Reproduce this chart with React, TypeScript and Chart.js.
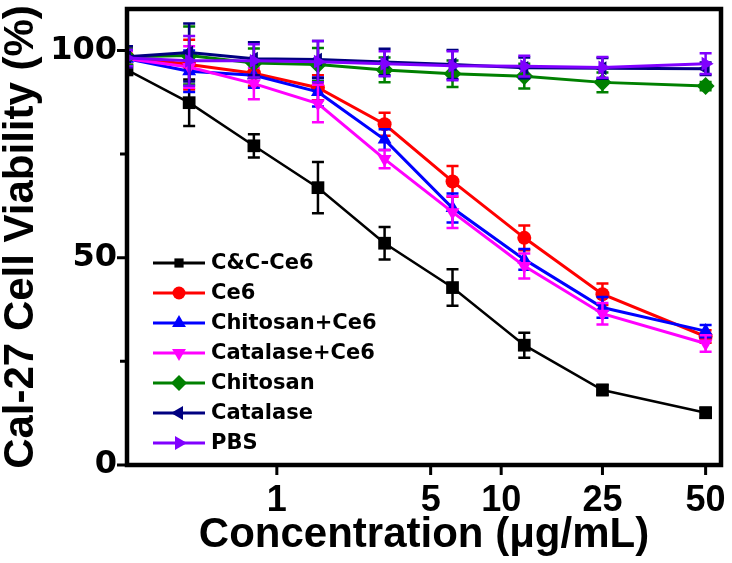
import React, { useEffect, useRef } from 'react';
import { Chart, registerables } from 'chart.js';

Chart.register(...registerables);

// ---------------- data ----------------
const CONCENTRATIONS = [0.195, 0.39, 0.78, 1.56, 3.125, 6.25, 12.5, 25, 50];

// calibration of the reference's (non-uniform) concentration axis, in dilution-step units
const AXIS_STOP_CONC = [0.195, 0.39, 0.78, 1.56, 3.125, 6.25, 12.5, 25, 50];
const AXIS_STOP_POS = [0, 0.97, 1.98, 2.98, 4.02, 5.08, 6.2, 7.42, 9.03];
const AXIS_MAX_POS = 9.27;

const X_TICKS = [1, 5, 10, 25, 50];
const X_TICK_LABELS = ['1', '5', '10', '25', '50'];
const Y_TICKS = [0, 50, 100];
const Y_MINOR_TICKS = [25, 75];

const SERIES_NAMES = ['C&C-Ce6', 'Ce6', 'Chitosan+Ce6', 'Catalase+Ce6', 'Chitosan', 'Catalase', 'PBS'];
const SERIES_COLORS = ['#000000', '#FF0000', '#0000FF', '#FF00FF', '#008000', '#000080', '#8000FF'];

const CC_CE6 = [95.3, 87.4, 77.0, 66.9, 53.5, 42.8, 28.9, 18.1, 12.6];
const CC_CE6_ERR = [0, 5.6, 2.8, 6.2, 3.9, 4.4, 3.0, 1.2, 1.2];
const CE6 = [98.5, 96.6, 94.5, 91.0, 82.2, 68.4, 54.8, 41.2, 31.0];
const CE6_ERR = [2, 6, 3, 3, 2.8, 3.7, 3.0, 2.6, 1.5];
const CHITOSAN_CE6 = [98.0, 95.0, 94.0, 90.0, 78.5, 62.0, 49.6, 38.0, 32.3];
const CHITOSAN_CE6_ERR = [2, 5, 3, 3.5, 2.5, 3.5, 2.5, 2.5, 1.5];
const CATALASE_CE6 = [98.0, 96.0, 92.0, 87.2, 73.8, 61.0, 48.0, 36.5, 29.3];
const CATALASE_CE6_ERR = [2, 5, 3.8, 4.5, 2.2, 3.8, 3.0, 2.6, 2.0];
const CHITOSAN = [98.5, 98.8, 97.0, 96.6, 95.3, 94.4, 93.8, 92.3, 91.4];
const CHITOSAN_ERR = [2, 7, 3.5, 4, 3, 3.2, 3, 2.4, 1];
const CATALASE = [98.5, 99.5, 98.0, 97.8, 97.2, 96.6, 95.8, 95.7, 95.6];
const CATALASE_ERR = [2.5, 7, 4, 4.5, 3.2, 3.5, 2.5, 2.5, 1.5];
const PBS = [98.2, 97.5, 97.5, 97.3, 96.8, 96.3, 96.2, 95.9, 96.8];
const PBS_ERR = [2, 6, 4, 5, 3, 3.5, 2.5, 2.5, 2.5];

const SERIES_VALUES = [CC_CE6, CE6, CHITOSAN_CE6, CATALASE_CE6, CHITOSAN, CATALASE, PBS];
const SERIES_ERRORS = [CC_CE6_ERR, CE6_ERR, CHITOSAN_CE6_ERR, CATALASE_CE6_ERR, CHITOSAN_ERR, CATALASE_ERR, PBS_ERR];

// marker styles
const MARKER_STYLE = ['rect', 'circle', 'triangle', 'triangle', 'rectRot', 'triangle', 'triangle'];
const MARKER_ROTATION = [0, 0, 0, 180, 0, 270, 90];
const MARKER_RADIUS = [9, 7, 8, 8, 9, 8, 8];
const LEGEND_MARKER_RADIUS = [6.5, 6.5, 8, 8, 8, 8, 8];

// ---------------- helpers ----------------
function warp(c: number): number {
  const n = AXIS_STOP_CONC.length;
  let i = 0;
  if (c <= AXIS_STOP_CONC[0]) i = 0;
  else if (c >= AXIS_STOP_CONC[n - 1]) i = n - 2;
  else {
    while (i < n - 2 && c > AXIS_STOP_CONC[i + 1]) i++;
  }
  const c0 = AXIS_STOP_CONC[i];
  const c1 = AXIS_STOP_CONC[i + 1];
  const t = Math.log(c / c0) / Math.log(c1 / c0);
  return AXIS_STOP_POS[i] + t * (AXIS_STOP_POS[i + 1] - AXIS_STOP_POS[i]);
}

function drawMarker(ctx: CanvasRenderingContext2D, style: string, rotationDeg: number, x: number, y: number, r: number) {
  ctx.save();
  ctx.translate(x, y);
  ctx.rotate((rotationDeg * Math.PI) / 180);
  ctx.beginPath();
  if (style === 'rect') {
    const s = Math.SQRT1_2 * r;
    ctx.rect(-s, -s, 2 * s, 2 * s);
  } else if (style === 'circle') {
    ctx.arc(0, 0, r, 0, Math.PI * 2);
  } else if (style === 'rectRot') {
    ctx.moveTo(0, -r);
    ctx.lineTo(r, 0);
    ctx.lineTo(0, r);
    ctx.lineTo(-r, 0);
    ctx.closePath();
  } else {
    for (let k = 0; k < 3; k++) {
      const a = -Math.PI / 2 + (k * 2 * Math.PI) / 3;
      const px = Math.cos(a) * r;
      const py = Math.sin(a) * r;
      if (k === 0) ctx.moveTo(px, py);
      else ctx.lineTo(px, py);
    }
    ctx.closePath();
  }
  ctx.fill();
  ctx.restore();
}

const errorBarPlugin = {
  id: 'errorBars',
  afterDatasetDraw(chart: any, args: any) {
    const idx = args.index;
    const errs = SERIES_ERRORS[idx];
    const vals = SERIES_VALUES[idx];
    if (!errs) return;
    const { ctx, chartArea } = chart;
    const yScale = chart.scales.y;
    ctx.save();
    ctx.beginPath();
    ctx.rect(chartArea.left, chartArea.top, chartArea.right - chartArea.left, chartArea.bottom - chartArea.top);
    ctx.clip();
    ctx.strokeStyle = SERIES_COLORS[idx];
    ctx.lineWidth = 2.5;
    args.meta.data.forEach((el: any, i: number) => {
      const e = errs[i];
      if (!e) return;
      const x = el.x;
      const yt = yScale.getPixelForValue(vals[i] + e);
      const yb = yScale.getPixelForValue(vals[i] - e);
      ctx.beginPath();
      ctx.moveTo(x, yt);
      ctx.lineTo(x, yb);
      ctx.moveTo(x - 6, yt);
      ctx.lineTo(x + 6, yt);
      ctx.moveTo(x - 6, yb);
      ctx.lineTo(x + 6, yb);
      ctx.stroke();
    });
    ctx.restore();
  },
};

const framePlugin = {
  id: 'frameTicksLegend',
  afterDraw(chart: any) {
    const { ctx, chartArea } = chart;
    const { left, right, top, bottom } = chartArea;
    const xScale = chart.scales.x;
    const yScale = chart.scales.y;
    ctx.save();
    ctx.strokeStyle = '#000';
    ctx.lineWidth = 4.5;
    ctx.strokeRect(left, top, right - left, bottom - top);

    ctx.lineWidth = 3;
    ctx.beginPath();
    Y_TICKS.forEach((v) => {
      const y = yScale.getPixelForValue(v);
      ctx.moveTo(left - 2, y);
      ctx.lineTo(left - 10, y);
    });
    Y_MINOR_TICKS.forEach((v) => {
      const y = yScale.getPixelForValue(v);
      ctx.moveTo(left - 2, y);
      ctx.lineTo(left - 7, y);
    });
    X_TICKS.forEach((v) => {
      const x = xScale.getPixelForValue(warp(v));
      ctx.moveTo(x, bottom + 2);
      ctx.lineTo(x, bottom + 10);
    });
    ctx.stroke();

    // legend
    const lx0 = 153;
    const lx1 = 205;
    const ly0 = 263;
    const step = 30;
    ctx.font = 'bold 21px "DejaVu Sans"';
    ctx.textBaseline = 'middle';
    ctx.textAlign = 'left';
    SERIES_NAMES.forEach((name, i) => {
      const y = ly0 + i * step;
      ctx.strokeStyle = SERIES_COLORS[i];
      ctx.fillStyle = SERIES_COLORS[i];
      ctx.lineWidth = 3;
      ctx.beginPath();
      ctx.moveTo(lx0, y);
      ctx.lineTo(lx1, y);
      ctx.stroke();
      drawMarker(ctx, MARKER_STYLE[i], MARKER_ROTATION[i], (lx0 + lx1) / 2, y, LEGEND_MARKER_RADIUS[i]);
      ctx.fillStyle = '#000';
      ctx.fillText(name, 211, y + 1);
    });
    ctx.restore();
  },
};

export default function App() {
  const canvasRef = useRef<HTMLCanvasElement | null>(null);

  useEffect(() => {
    if (!canvasRef.current) return;
    const datasets = SERIES_NAMES.map((name, i) => ({
      label: name,
      data: CONCENTRATIONS.map((c, j) => ({ x: warp(c), y: SERIES_VALUES[i][j] })),
      borderColor: SERIES_COLORS[i],
      backgroundColor: SERIES_COLORS[i],
      pointBackgroundColor: SERIES_COLORS[i],
      pointBorderColor: SERIES_COLORS[i],
      pointBorderWidth: 0,
      borderWidth: i === 0 ? 2.5 : 3,
      pointStyle: MARKER_STYLE[i] as any,
      rotation: MARKER_ROTATION[i],
      pointRotation: MARKER_ROTATION[i],
      pointRadius: MARKER_RADIUS[i],
      tension: 0,
      clip: 0,
      order: SERIES_NAMES.length - 1 - i,
    }));

    const chart = new Chart(canvasRef.current, {
      type: 'line',
      data: { datasets },
      options: {
        animation: false,
        responsive: false,
        devicePixelRatio: 1,
        layout: { padding: { top: 9, right: 11, left: 0, bottom: 0 } },
        plugins: { legend: { display: false }, tooltip: { enabled: false } },
        scales: {
          x: {
            type: 'linear',
            min: 0,
            max: AXIS_MAX_POS,
            grid: { display: false, drawTicks: false },
            border: { display: false },
            afterBuildTicks: (scale: any) => {
              scale.ticks = X_TICKS.map((v) => ({ value: warp(v) }));
            },
            afterFit: (scale: any) => {
              scale.height = 98;
              scale.paddingLeft = 0;
              scale.paddingRight = 0;
              scale.paddingTop = 0;
              scale.paddingBottom = 0;
            },
            ticks: {
              autoSkip: false,
              maxRotation: 0,
              padding: 14,
              color: '#000',
              font: { family: '"Liberation Sans", Arial, sans-serif', size: 36, weight: 'bold' },
              callback: (_v: any, index: number) => X_TICK_LABELS[index],
            },
            title: {
              display: true,
              text: 'Concentration (\u03BCg/mL)',
              color: '#000',
              padding: { top: 0, bottom: 2 },
              font: { family: '"Liberation Sans", Arial, sans-serif', size: 42, weight: 'bold', lineHeight: 1.2 },
            },
          },
          y: {
            type: 'linear',
            min: 0,
            max: 110,
            grid: { display: false, drawTicks: false },
            border: { display: false },
            afterBuildTicks: (scale: any) => {
              scale.ticks = Y_TICKS.map((v) => ({ value: v }));
            },
            afterFit: (scale: any) => {
              scale.width = 127;
              scale.paddingLeft = 0;
              scale.paddingRight = 0;
              scale.paddingTop = 0;
              scale.paddingBottom = 0;
            },
            ticks: {
              padding: 10,
              color: '#000',
              font: { family: '"DejaVu Sans", sans-serif', size: 32, weight: 'bold' },
              callback: (v: any) => String(v),
            },
            title: {
              display: true,
              text: 'Cal-27 Cell Viability (%)',
              color: '#000',
              padding: { top: 0, bottom: 0 },
              font: { family: '"Liberation Sans", Arial, sans-serif', size: 42, weight: 'bold', lineHeight: 1 },
            },
          },
        },
      },
      plugins: [errorBarPlugin, framePlugin],
    });
    return () => chart.destroy();
  }, []);

  return (
    <div style={{ position: 'absolute', left: 0, top: 0, width: 732, height: 563, background: '#fff' }}>
      <canvas ref={canvasRef} width={732} height={563} style={{ display: 'block' }} />
    </div>
  );
}
